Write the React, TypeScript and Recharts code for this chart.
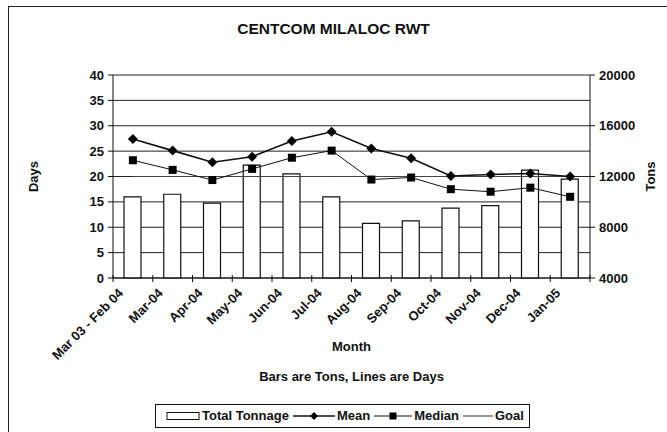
import {
  ComposedChart,
  Bar,
  Line,
  XAxis,
  YAxis,
  CartesianGrid,
  Legend,
  Label,
} from 'recharts';

const months = [
  'Mar 03 - Feb 04',
  'Mar-04',
  'Apr-04',
  'May-04',
  'Jun-04',
  'Jul-04',
  'Aug-04',
  'Sep-04',
  'Oct-04',
  'Nov-04',
  'Dec-04',
  'Jan-05',
];
const totalTonnage = [10400, 10600, 9900, 12900, 12200, 10400, 8300, 8500, 9500, 9700, 12500, 11800];
const meanDays = [27.4, 25.1, 22.8, 23.9, 27.0, 28.8, 25.5, 23.6, 20.1, 20.4, 20.6, 20.0];
const medianDays = [23.2, 21.3, 19.3, 21.5, 23.7, 25.1, 19.4, 19.8, 17.5, 17.0, 17.8, 16.0];
const goalDays = [20, 20, 20, 20, 20, 20, 20, 20, 20, 20, 20, 20];
const dayTicks = [0, 5, 10, 15, 20, 25, 30, 35, 40];
const tonTicks = [4000, 8000, 12000, 16000, 20000];

const data = months.map((month, i) => ({
  month,
  tonnage: totalTonnage[i],
  mean: meanDays[i],
  median: medianDays[i],
  goal: goalDays[i],
}));

const FONT = '"Liberation Sans", Arial, sans-serif';
const PLOT_W = 477;
const tickFont = { fontSize: 13, fontWeight: 700, fill: '#111', fontFamily: FONT };

function MonthTick(props: any) {
  const { x, y, payload, index } = props;
  const band = PLOT_W / months.length;
  const ax = x - 9;
  const ay = y + 16;
  return (
    <g>
      <line x1={x - band / 2} y1={y - 3} x2={x - band / 2} y2={y + 4} stroke="#111" />
      {index === months.length - 1 && (
        <line x1={x + band / 2} y1={y - 3} x2={x + band / 2} y2={y + 4} stroke="#111" />
      )}
      <text x={ax} y={ay} textAnchor="end" transform={`rotate(-45, ${ax}, ${ay})`} {...tickFont}>
        {payload.value}
      </text>
    </g>
  );
}

function Diamond(props: any) {
  const { cx, cy } = props;
  if (cx == null || cy == null) return null;
  return <path d={`M${cx},${cy - 5}L${cx + 5},${cy}L${cx},${cy + 5}L${cx - 5},${cy}Z`} fill="#000" />;
}

function Square(props: any) {
  const { cx, cy } = props;
  if (cx == null || cy == null) return null;
  return <rect x={cx - 4} y={cy - 4} width={8} height={8} fill="#000" />;
}

function AxisTitles(props: any) {
  const { viewBox } = props;
  const cx = viewBox.x + viewBox.width / 2;
  return (
    <g>
      <text x={cx} y={351} textAnchor="middle" {...tickFont}>
        Month
      </text>
      <text x={cx} y={381} textAnchor="middle" {...tickFont}>
        Bars are Tons, Lines are Days
      </text>
    </g>
  );
}

function LegendBox() {
  const item = { display: 'flex', alignItems: 'center', gap: 2 } as const;
  return (
    <div
      style={{
        display: 'flex',
        alignItems: 'center',
        gap: 4,
        border: '1px solid #111',
        padding: '3px 4px 4px 10px',
        width: 359,
        fontFamily: FONT,
        fontSize: 13,
        fontWeight: 700,
        color: '#111',
        background: '#fff',
      }}
    >
      <span style={item}>
        <svg width={34} height={10}>
          <rect x={1} y={1.5} width={32} height={7} fill="#fff" stroke="#111" />
        </svg>
        Total Tonnage
      </span>
      <span style={item}>
        <svg width={42} height={10}>
          <line x1={0} y1={5} x2={42} y2={5} stroke="#111" strokeWidth={1.5} />
          <path d="M21,1L25,5L21,9L17,5Z" fill="#000" />
        </svg>
        Mean
      </span>
      <span style={item}>
        <svg width={38} height={10}>
          <line x1={0} y1={5} x2={38} y2={5} stroke="#111" />
          <rect x={15.5} y={1.5} width={7} height={7} fill="#000" />
        </svg>
        Median
      </span>
      <span style={item}>
        <svg width={30} height={10}>
          <line x1={0} y1={5} x2={30} y2={5} stroke="#333" />
        </svg>
        Goal
      </span>
    </div>
  );
}

export default function App() {
  return (
    <div style={{ position: 'absolute', left: 0, top: 0, width: 667, height: 432, background: '#fff' }}>
      <div
        style={{
          position: 'absolute',
          left: 8,
          top: 6,
          right: 0,
          bottom: 0,
          borderTop: '1px solid #222',
          borderLeft: '1px solid #222',
        }}
      />
      <div
        style={{
          position: 'absolute',
          top: 20,
          left: 0,
          width: 667,
          textAlign: 'center',
          fontFamily: FONT,
          fontSize: 15.5,
          fontWeight: 700,
          color: '#111',
        }}
      >
        CENTCOM MILALOC RWT
      </div>
      <ComposedChart
        width={667}
        height={432}
        data={data}
        margin={{ top: 75, right: 0, bottom: 54, left: 0 }}
        style={{ position: 'absolute', left: 0, top: 0 }}
      >
        <CartesianGrid vertical={false} stroke="#222" yAxisId="days" />
        <XAxis
          dataKey="month"
          height={100}
          interval={0}
          tickSize={0}
          tickMargin={0}
          tick={<MonthTick />}
          axisLine={{ stroke: '#111' }}
        >
          <Label content={<AxisTitles />} />
        </XAxis>
        <YAxis
          yAxisId="days"
          width={113}
          domain={[0, 40]}
          ticks={dayTicks}
          interval={0}
          tick={tickFont}
          tickSize={5}
          tickMargin={4}
          axisLine={{ stroke: '#111' }}
          tickLine={{ stroke: '#111' }}
        >
          <Label
            value="Days"
            angle={-90}
            position="insideLeft"
            offset={33}
            style={{ ...tickFont, textAnchor: 'middle' }}
          />
        </YAxis>
        <YAxis
          yAxisId="tons"
          orientation="right"
          width={77}
          domain={[4000, 20000]}
          ticks={tonTicks}
          interval={0}
          tick={tickFont}
          tickSize={5}
          tickMargin={4}
          axisLine={{ stroke: '#111' }}
          tickLine={{ stroke: '#111' }}
        >
          <Label
            value="Tons"
            angle={-90}
            position="insideRight"
            offset={17}
            style={{ ...tickFont, textAnchor: 'middle' }}
          />
        </YAxis>
        <Bar
          yAxisId="tons"
          dataKey="tonnage"
          name="Total Tonnage"
          barSize={17}
          fill="#fff"
          stroke="#111"
          strokeWidth={1.2}
          isAnimationActive={false}
        />
        <Line
          yAxisId="days"
          dataKey="goal"
          name="Goal"
          stroke="#444"
          strokeWidth={1}
          dot={false}
          isAnimationActive={false}
        />
        <Line
          yAxisId="days"
          dataKey="median"
          name="Median"
          stroke="#111"
          strokeWidth={1}
          dot={<Square />}
          isAnimationActive={false}
        />
        <Line
          yAxisId="days"
          dataKey="mean"
          name="Mean"
          stroke="#111"
          strokeWidth={1.6}
          dot={<Diamond />}
          isAnimationActive={false}
        />
        <Legend
          verticalAlign="middle"
          align="center"
          layout="horizontal"
          content={<LegendBox />}
          wrapperStyle={{ position: 'absolute', top: 404, left: 155, width: 'auto' }}
        />
      </ComposedChart>
    </div>
  );
}
